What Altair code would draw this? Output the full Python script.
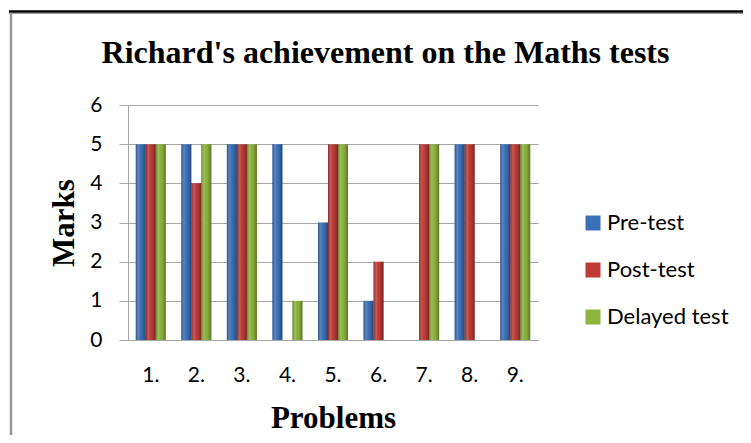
import altair as alt
import pandas as pd

problems = ["1.", "2.", "3.", "4.", "5.", "6.", "7.", "8.", "9."]
pre_test = [5, 5, 5, 5, 3, 1, 0, 5, 5]
post_test = [5, 4, 5, 0, 5, 2, 5, 5, 5]
delayed_test = [5, 5, 5, 1, 5, 0, 5, 0, 5]
series = ["Pre-test", "Post-test", "Delayed test"]
colors = ["#3A70B8", "#BE3B36", "#8DB43C"]
y_ticks = [0, 1, 2, 3, 4, 5, 6]
title_text = "Richard's achievement on the Maths tests"

rows = []
for name, vals in zip(series, [pre_test, post_test, delayed_test]):
    for p, v in zip(problems, vals):
        rows.append({"Problem": p, "Test": name, "Marks": v})
df = pd.DataFrame(rows)

W, H = 410, 235
grid = "#A6A6A6"

x = alt.X(
    "Problem:N", sort=problems,
    scale=alt.Scale(paddingInner=0.34, paddingOuter=0.17),
    axis=alt.Axis(title="Problems", labelAngle=0, ticks=False, domainColor=grid,
                  labelFont="Lato", labelFontSize=21, labelColor="#000", labelPadding=24,
                  titleFont="Liberation Serif", titleFontSize=31, titleFontWeight="bold",
                  titleColor="#000", titleBaseline="alphabetic", titleY=87),
)
y = alt.Y(
    "Marks:Q", scale=alt.Scale(domain=[0, 6]),
    axis=alt.Axis(values=y_ticks, title="Marks", grid=True, gridColor=grid, tickColor=grid,
                  tickSize=9, domainColor=grid, labelFont="Lato", labelFontSize=21,
                  labelPadding=17, labelColor="#000",
                  titleFont="Liberation Serif", titleFontSize=31, titleFontWeight="bold",
                  titleColor="#000", titleBaseline="alphabetic", titleAngle=270,
                  titleX=-55, titleY=117.5),
)
xoff = alt.XOffset("Test:N", sort=series, scale=alt.Scale(domain=series))

base = alt.Chart(df).encode(x=x, xOffset=xoff, y=y)

bars = base.mark_bar().encode(
    color=alt.Color("Test:N", sort=series,
                    scale=alt.Scale(domain=series, range=colors),
                    legend=alt.Legend(orient="none", legendX=454, legendY=107, title=None,
                                      symbolType="square", symbolSize=225, symbolStrokeWidth=0,
                                      labelFont="Lato", labelFontSize=22, labelColor="#000",
                                      labelOffset=3, rowPadding=25))
)

shade_grad = alt.LinearGradient(
    gradient="linear", x1=0, x2=1, y1=0, y2=0,
    stops=[
        alt.GradientStop(color="rgba(0,0,0,0.30)", offset=0),
        alt.GradientStop(color="rgba(255,255,255,0.15)", offset=0.3),
        alt.GradientStop(color="rgba(0,0,0,0.02)", offset=0.6),
        alt.GradientStop(color="rgba(0,0,0,0.35)", offset=1),
    ],
)
shade = base.mark_bar(fill=shade_grad)

one = alt.Data(values=[{"t": 1}])
title = alt.Chart(one).mark_text(
    font="Liberation Serif", fontSize=32, fontWeight="bold", align="center",
    baseline="alphabetic", color="#000"
).encode(x=alt.value(257.5), y=alt.value(-42), text=alt.value(title_text))

frame_top = alt.Chart(one).mark_rule(color="#000", strokeWidth=2.5).encode(
    x=alt.value(-119), x2=alt.value(615), y=alt.value(-93.5))
frame_top2 = alt.Chart(one).mark_rule(color="#999", strokeWidth=1).encode(
    x=alt.value(-119), x2=alt.value(615), y=alt.value(-91.5))
frame_left = alt.Chart(one).mark_rule(color="#999", strokeWidth=2.5).encode(
    x=alt.value(-117), y=alt.value(-92), y2=alt.value(330))

chart = alt.layer(bars, shade, title, frame_top, frame_top2, frame_left).properties(
    width=W, height=H,
    autosize=alt.AutoSizeParams(type="none"),
    padding={"left": 120, "top": 97, "right": 205, "bottom": 95},
    background="white",
).configure_view(stroke=None)

chart.save("out.html", embed_options={"renderer": "svg", "actions": False})
